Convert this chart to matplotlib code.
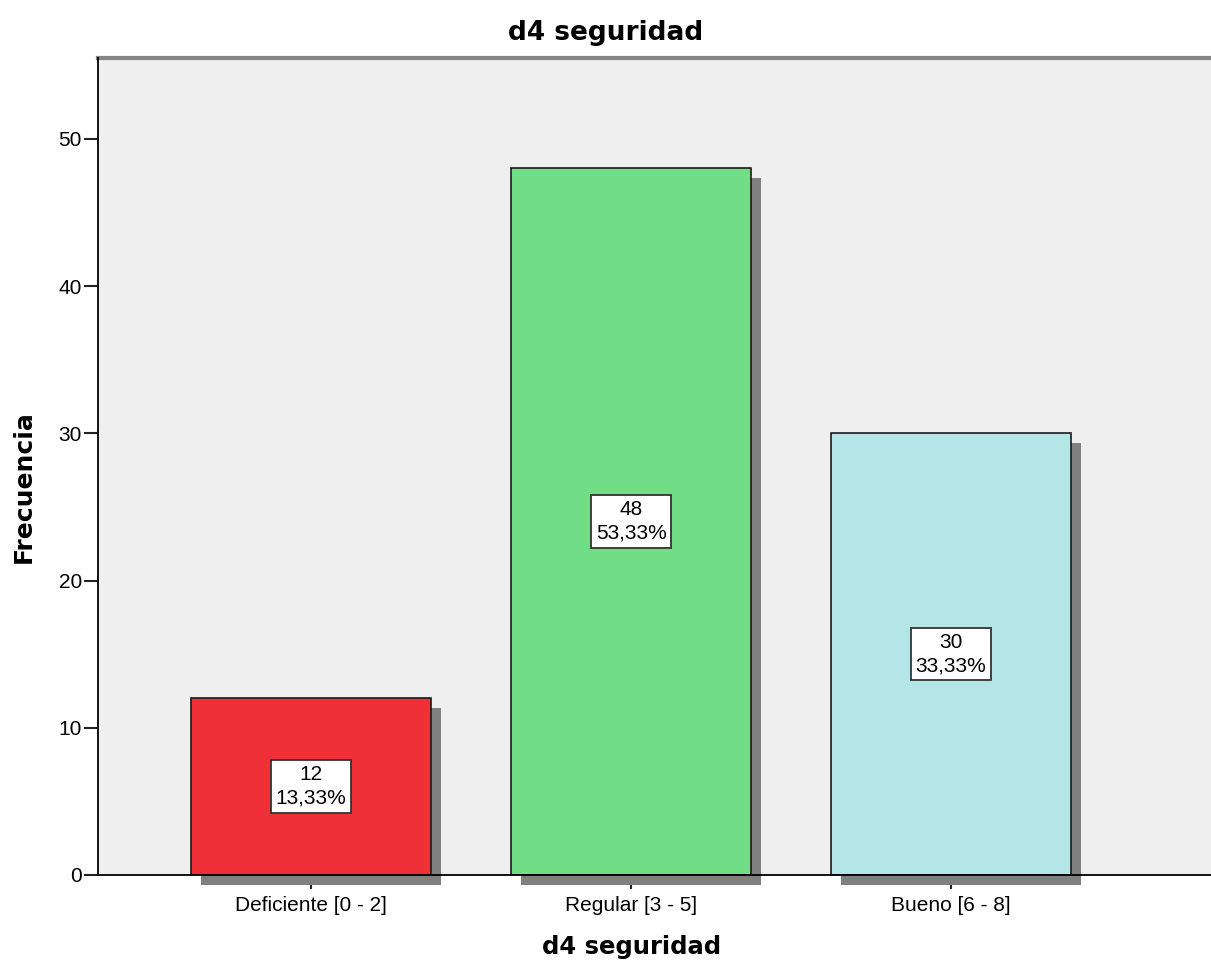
import numpy as np
import matplotlib
matplotlib.use("Agg")
import matplotlib.pyplot as plt
from matplotlib.transforms import ScaledTranslation

# Datos del gráfico
categorias = ['Deficiente [0 - 2]', 'Regular [3 - 5]', 'Bueno [6 - 8]']
frecuencias = [12, 48, 30]
porcentajes = ['13,33%', '53,33%', '33,33%']
colores = ['#EF3039', '#71DD87', '#B4E6E8']
yticks = [0, 10, 20, 30, 40, 50]

fig = plt.figure(figsize=(12.11, 9.64), dpi=100)
ax = fig.add_axes([98 / 1211, 1 - 875 / 964, 1 - 98 / 1211, (875 - 58) / 964])
ax.set_facecolor('#EFEFEF')

x = np.arange(len(categorias))

# Sombra de las barras (desplazada 10 px a la derecha y hacia abajo)
sombra = ax.transData + ScaledTranslation(0.10, -0.10, fig.dpi_scale_trans)
ax.bar(x, frecuencias, width=0.75, color='#808080', linewidth=0,
       transform=sombra, clip_on=False, zorder=3)

# Barras
ax.bar(x, frecuencias, width=0.75, color=colores, edgecolor='#1a1a1a',
       linewidth=1.2, zorder=3.5)

# Etiquetas dentro de las barras
for xi, f, p in zip(x, frecuencias, porcentajes):
    ax.text(xi, f / 2, f'{f}\n{p}', ha='center', va='center',
            fontsize=15, family='Liberation Sans', linespacing=1.3,
            zorder=5,
            bbox=dict(boxstyle='square,pad=0.24', facecolor='white',
                      edgecolor='#333333', linewidth=1.3))

ax.set_xlim(-0.666, 2.8125)
ax.set_ylim(0, 55.5)
ax.set_xticks(x)
ax.set_xticklabels(categorias, family='Liberation Sans', fontsize=15)
ax.set_yticks(yticks)
ax.set_yticklabels([str(v) for v in yticks], family='Liberation Sans', fontsize=15)
ax.tick_params(axis='y', direction='out', length=10, width=1.5, pad=1.5, color='#222222')
ax.tick_params(axis='x', direction='out', length=10, width=1.5, pad=5, color='#222222')
ax.xaxis.set_zorder(1)

for lado in ['left', 'bottom']:
    ax.spines[lado].set_color('black')
    ax.spines[lado].set_linewidth(1.3)
    ax.spines[lado].set_zorder(4)
ax.spines['top'].set_color('#858585')
ax.spines['top'].set_linewidth(3)
ax.spines['right'].set_visible(False)

# Títulos
fig.text(0.5, 1 - 33 / 964, 'd4 seguridad', ha='center', va='center',
         fontsize=19, fontweight='bold', family='DejaVu Sans')
fig.text(632 / 1211, 1 - 947 / 964, 'd4 seguridad', ha='center', va='center',
         fontsize=17.5, fontweight='bold', family='DejaVu Sans')
fig.text(24 / 1211, 1 - 487 / 964, 'Frecuencia', ha='center', va='center',
         rotation=90, fontsize=18, fontweight='bold', family='DejaVu Sans')

fig.savefig('out.png', dpi=100)
